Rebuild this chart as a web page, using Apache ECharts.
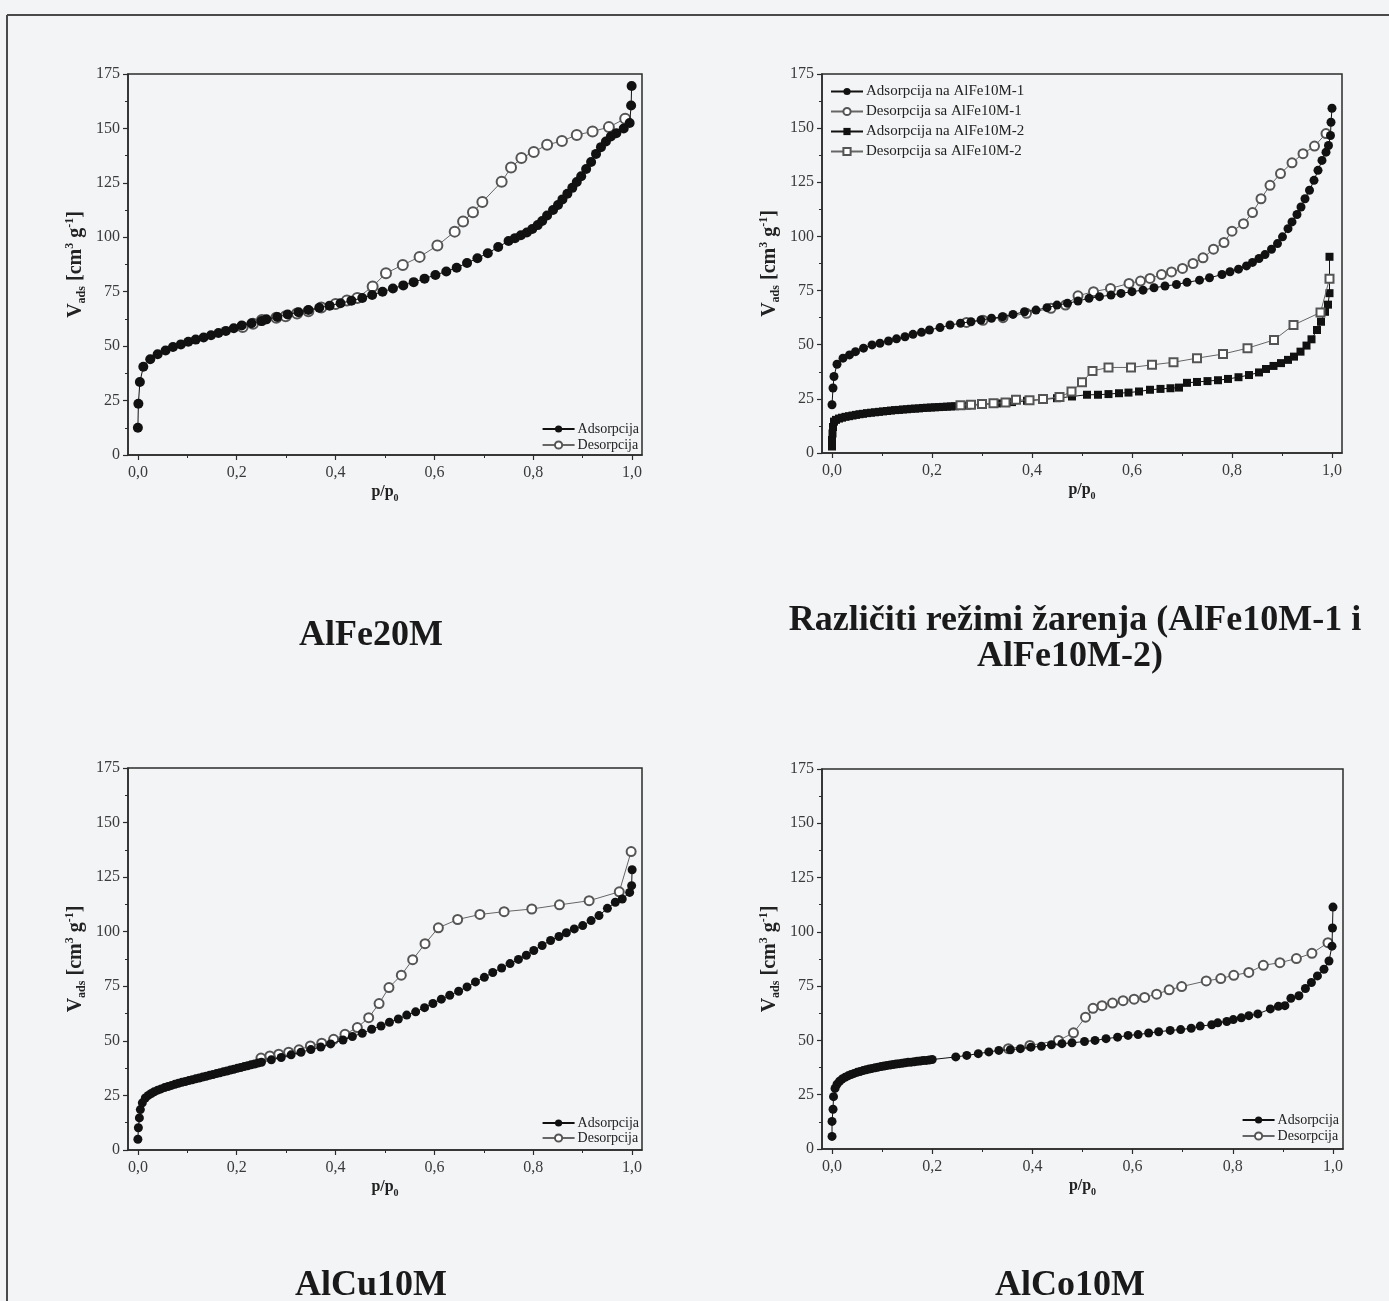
<!DOCTYPE html>
<html><head><meta charset="utf-8">
<script src="https://cdn.jsdelivr.net/npm/echarts@6/dist/echarts.min.js"></script>
<style>html,body{margin:0;padding:0;background:#f3f4f6;}#c{width:1389px;height:1301px;}</style>
</head><body><div id="c"></div>
<script>
// ---------- tick values ----------
const xMajorTicks = [0, 0.2, 0.4, 0.6, 0.8, 1.0];
const xMinorTicks = [0.1, 0.3, 0.5, 0.7, 0.9];

// ---------- captions ----------
const captions = ['AlFe20M', 'Različiti režimi žarenja (AlFe10M-1 i', 'AlFe10M-2)', 'AlCu10M', 'AlCo10M'];

// ---------- AlFe20M ----------
const alFe20Ads = [[0,12.5],[0.001,23.5],[0.004,33.5],[0.011,40.5],[0.025,44],[0.04,46.3],[0.056,48],[0.071,49.6],[0.087,50.8],[0.102,52],[0.117,53],[0.133,54],[0.148,55],[0.163,56],[0.178,57],[0.194,58.2],[0.21,59.5],[0.23,60.5],[0.25,61.5],[0.26,62.3],[0.282,63.4],[0.303,64.5],[0.325,65.6],[0.345,66.6],[0.367,67.6],[0.388,68.6],[0.41,69.7],[0.432,70.9],[0.454,72.1],[0.474,73.5],[0.495,75],[0.516,76.5],[0.537,77.9],[0.558,79.4],[0.58,81],[0.602,82.7],[0.624,84.3],[0.645,86],[0.666,88.2],[0.687,90.4],[0.708,92.7],[0.729,95.5],[0.75,98.3],[0.763,99.6],[0.775,100.9],[0.787,102.2],[0.798,103.8],[0.809,105.6],[0.818,107.5],[0.828,110],[0.84,112.5],[0.85,114.8],[0.859,117.4],[0.869,120],[0.879,122.7],[0.888,125.4],[0.897,128],[0.907,131.4],[0.917,134.6],[0.927,138.3],[0.937,141.4],[0.947,144],[0.957,146.3],[0.968,147.8],[0.983,150],[0.995,152.5],[0.998,160.5],[0.999,169.5]];
const alFe20Des = [[0.986,154.5],[0.953,150.6],[0.92,148.6],[0.888,147],[0.858,144.2],[0.828,142.5],[0.801,139.2],[0.776,136.4],[0.755,132],[0.736,125.5],[0.697,116.2],[0.678,111.5],[0.658,107.2],[0.641,102.6],[0.606,96.2],[0.57,91],[0.536,87.3],[0.502,83.5],[0.475,77.4],[0.444,72.1],[0.423,71],[0.4,69.4],[0.371,67.8],[0.345,66],[0.322,65],[0.299,63.7],[0.28,63],[0.251,62],[0.233,60.3],[0.212,58.8]];

// ---------- AlFe10M-1 / AlFe10M-2 ----------
const alFe10m1Ads = [[0,22.3],[0.002,30],[0.004,35.3],[0.01,41],[0.022,43.8],[0.035,45.3],[0.047,46.8],[0.063,48.4],[0.08,49.9],[0.096,50.7],[0.113,51.7],[0.129,52.7],[0.146,53.7],[0.162,54.8],[0.179,55.7],[0.195,56.8],[0.216,57.9],[0.236,59.1],[0.257,59.9],[0.278,60.6],[0.298,61.4],[0.319,62.2],[0.341,62.9],[0.362,64],[0.385,65.2],[0.408,66],[0.43,67.1],[0.45,68.3],[0.471,69.1],[0.492,70.2],[0.514,71.4],[0.535,72.2],[0.558,72.9],[0.578,73.7],[0.6,74.5],[0.622,75.2],[0.644,76.3],[0.666,77.1],[0.689,77.8],[0.71,78.8],[0.735,79.8],[0.755,80.9],[0.78,82.4],[0.796,83.7],[0.813,84.9],[0.829,86.4],[0.841,88],[0.854,89.8],[0.866,91.6],[0.879,94.1],[0.891,96.7],[0.901,99.8],[0.912,103.6],[0.92,106.7],[0.93,110.1],[0.938,113.6],[0.946,117.4],[0.955,121.3],[0.964,125.9],[0.972,130.5],[0.98,135.1],[0.988,138.9],[0.993,142],[0.997,146.6],[0.998,152.7],[1.0,159.2]];
const alFe10m1Des = [[0.988,147.5],[0.965,141.7],[0.942,138.2],[0.92,134],[0.897,129],[0.876,123.6],[0.858,117.4],[0.841,111],[0.823,105.9],[0.8,102.4],[0.784,97.2],[0.763,94.1],[0.742,90.1],[0.722,87.5],[0.701,85.2],[0.679,83.6],[0.659,82.4],[0.636,80.6],[0.617,79.4],[0.594,78.3],[0.557,76],[0.523,74.5],[0.492,72.6],[0.467,68.3],[0.438,66.8],[0.389,64.5],[0.342,62.5],[0.302,61.3],[0.269,60.3]];
const alFe10m2Ads = [[0,3],[0,6],[0.001,9],[0.002,12],[0.004,14.5],[0.008,15.3],[0.014,15.9],[0.02,16.3],[0.027,16.7],[0.034,17],[0.041,17.3],[0.048,17.6],[0.055,17.9],[0.062,18.1],[0.07,18.4],[0.078,18.6],[0.086,18.8],[0.094,19],[0.102,19.2],[0.11,19.4],[0.118,19.6],[0.126,19.8],[0.134,19.9],[0.142,20.1],[0.15,20.2],[0.158,20.4],[0.166,20.5],[0.174,20.6],[0.182,20.8],[0.19,20.9],[0.198,21],[0.206,21.1],[0.214,21.2],[0.222,21.3],[0.23,21.4],[0.238,21.5],[0.246,21.6],[0.27,21.9],[0.3,22.4],[0.33,22.9],[0.36,23.5],[0.39,24.1],[0.42,24.7],[0.45,25.3],[0.48,26.1],[0.51,26.9],[0.532,26.9],[0.553,27.2],[0.574,27.6],[0.593,27.9],[0.614,28.4],[0.636,29.2],[0.657,29.6],[0.677,29.9],[0.694,30.2],[0.71,32.4],[0.73,32.8],[0.751,33.2],[0.772,33.6],[0.792,34.2],[0.813,35],[0.834,36],[0.854,37.2],[0.868,38.8],[0.883,40.2],[0.898,41.5],[0.912,43],[0.924,44.5],[0.937,46.8],[0.949,49.6],[0.959,52.5],[0.97,56.8],[0.978,60.6],[0.986,65.2],[0.992,68.5],[0.995,73.8],[0.995,90.6]];
const alFe10m2Des = [[0.995,80.5],[0.977,64.9],[0.923,59.1],[0.884,52.2],[0.831,48.4],[0.782,45.7],[0.73,43.8],[0.683,41.9],[0.64,40.7],[0.598,39.5],[0.553,39.5],[0.521,37.9],[0.5,32.7],[0.479,28.4],[0.455,25.8],[0.422,24.9],[0.395,24.3],[0.368,24.6],[0.347,23.3],[0.323,23],[0.3,22.6],[0.278,22.3],[0.257,22.1]];

// ---------- AlCu10M ----------
const alCu10Ads = [[0,4.9],[0.001,10.2],[0.003,14.7],[0.005,18.5],[0.009,21.6],[0.015,23.8],[0.021,25],[0.027,25.9],[0.033,26.7],[0.04,27.4],[0.047,28],[0.054,28.6],[0.061,29.1],[0.068,29.6],[0.075,30.1],[0.082,30.6],[0.089,31],[0.096,31.4],[0.103,31.8],[0.11,32.2],[0.117,32.6],[0.124,33],[0.131,33.4],[0.138,33.8],[0.145,34.2],[0.152,34.6],[0.159,35],[0.166,35.4],[0.173,35.8],[0.18,36.2],[0.187,36.6],[0.194,37],[0.201,37.4],[0.208,37.8],[0.215,38.2],[0.222,38.6],[0.229,39],[0.236,39.4],[0.243,39.8],[0.25,40.2],[0.27,41.3],[0.29,42.4],[0.31,43.6],[0.33,44.8],[0.35,46],[0.37,47.2],[0.39,48.6],[0.415,50.4],[0.434,52],[0.454,53.5],[0.473,55.3],[0.492,56.8],[0.509,58.5],[0.527,60],[0.544,61.8],[0.562,63.3],[0.58,65.2],[0.597,67.1],[0.614,69.1],[0.631,70.9],[0.649,72.7],[0.666,74.7],[0.683,77],[0.701,79.1],[0.718,81.3],[0.736,83.4],[0.753,85.4],[0.77,87.3],[0.786,89.2],[0.801,91.4],[0.818,93.7],[0.835,96],[0.852,97.8],[0.867,99.5],[0.883,101.3],[0.9,102.8],[0.917,105.1],[0.933,107.4],[0.95,110.7],[0.966,113.5],[0.98,115],[0.995,118],[0.999,121.1],[1.0,128.4]];
const alCu10Des = [[0.998,136.7],[0.974,118.3],[0.913,114.2],[0.853,112.3],[0.797,110.4],[0.741,109.2],[0.692,107.9],[0.647,105.6],[0.608,101.8],[0.581,94.5],[0.556,87.2],[0.533,80.1],[0.508,74.4],[0.488,67.1],[0.467,60.6],[0.444,56.1],[0.419,53],[0.396,50.7],[0.372,48.9],[0.349,47.7],[0.326,45.9],[0.305,44.8],[0.285,43.9],[0.267,43.1],[0.249,42.1]];

// ---------- AlCo10M ----------
const alCo10Ads = [[0,5.8],[0,12.7],[0.002,18.3],[0.003,24.1],[0.006,27.9],[0.01,29.8],[0.015,31.2],[0.02,32.2],[0.026,33],[0.032,33.7],[0.038,34.3],[0.044,34.8],[0.05,35.3],[0.056,35.7],[0.062,36.1],[0.068,36.5],[0.074,36.8],[0.08,37.1],[0.086,37.4],[0.092,37.7],[0.098,38],[0.104,38.2],[0.11,38.5],[0.116,38.7],[0.122,38.9],[0.128,39.1],[0.134,39.3],[0.14,39.5],[0.146,39.7],[0.152,39.9],[0.158,40],[0.164,40.2],[0.17,40.4],[0.176,40.5],[0.182,40.7],[0.188,40.8],[0.194,41],[0.2,41.2],[0.247,42.4],[0.269,43.1],[0.292,43.9],[0.313,44.7],[0.333,45.4],[0.356,45.7],[0.376,46.2],[0.397,46.9],[0.418,47.3],[0.438,48],[0.459,48.5],[0.479,48.9],[0.504,49.5],[0.525,50],[0.547,50.8],[0.57,51.5],[0.591,52.3],[0.611,52.7],[0.632,53.4],[0.652,54],[0.675,54.6],[0.696,55],[0.717,55.6],[0.735,56.6],[0.758,57.2],[0.77,58.1],[0.788,58.7],[0.801,59.6],[0.817,60.4],[0.832,61.4],[0.85,62.2],[0.875,64.5],[0.891,65.7],[0.904,66],[0.916,69.4],[0.932,70.6],[0.945,73.9],[0.957,76.7],[0.969,79.7],[0.982,82.8],[0.992,86.6],[0.998,93.4],[0.999,101.8],[1.0,111.4]];
const alCo10Des = [[0.99,95],[0.958,90.1],[0.927,87.7],[0.894,85.8],[0.861,84.6],[0.832,81.3],[0.802,80],[0.776,78.5],[0.747,77.4],[0.698,74.8],[0.673,73.3],[0.648,71.3],[0.624,69.8],[0.603,69],[0.581,68.3],[0.56,67.2],[0.539,66],[0.521,64.8],[0.506,60.7],[0.482,53.5],[0.452,50],[0.395,47.7],[0.352,46.2]];

// ---------- build ----------
const SERIF = "'Liberation Serif','Times New Roman',serif";
const INK = '#2b2b2b';
const grids = [
  {left:128, top:74, width:514, height:381},
  {left:822, top:74, width:520, height:379},
  {left:128, top:768, width:514, height:382},
  {left:822, top:769, width:521, height:380}
];
const fmtX = v => v.toFixed(1).replace('.', ',');
const xAxes = [], yAxes = [];
grids.forEach((g, i) => {
  xAxes.push({
    gridIndex:i, type:'value', min:-0.02, max:1.02,
    axisLine:{show:true, onZero:false, lineStyle:{color:INK, width:1.5}},
    axisTick:{show:true, inside:false, length:5, customValues:xMajorTicks, lineStyle:{color:INK, width:1.2}},
    axisLabel:{customValues:xMajorTicks, formatter:fmtX, color:'#3a3a3a', fontFamily:SERIF, fontSize:16, margin:10},
    splitLine:{show:false},
    name:'{v|p/p}{s|0}', nameLocation:'middle', nameGap:27,
    nameTextStyle:{rich:{
      v:{fontFamily:SERIF, fontSize:16, fontWeight:'bold', color:'#222', lineHeight:18, verticalAlign:'bottom'},
      s:{fontFamily:SERIF, fontSize:10, fontWeight:'bold', color:'#222', lineHeight:18, verticalAlign:'bottom', padding:[0,0,-3,0]}
    }}
  });
  xAxes.push({
    gridIndex:i, type:'value', min:-0.02, max:1.02, position:'bottom',
    axisLine:{show:false},
    axisTick:{show:true, inside:false, length:3, customValues:xMinorTicks, lineStyle:{color:INK, width:1}},
    axisLabel:{show:false}, splitLine:{show:false}
  });
  yAxes.push({
    gridIndex:i, type:'value', min:0, max:175, interval:25,
    axisLine:{show:true, onZero:false, lineStyle:{color:INK, width:1.5}},
    axisTick:{show:true, inside:false, length:5, lineStyle:{color:INK, width:1.2}},
    minorTick:{show:true, splitNumber:2, length:3, lineStyle:{color:INK, width:1}},
    axisLabel:{color:'#3a3a3a', fontFamily:SERIF, fontSize:16, margin:8},
    splitLine:{show:false},
    name:'{v|V}{s|ads}{v| [cm}{p|3}{v| g}{p|-1}{v|]}', nameLocation:'middle', nameRotate:90, nameGap:40,
    nameTextStyle:{rich:{
      v:{fontFamily:SERIF, fontSize:20, fontWeight:'bold', color:'#222', lineHeight:24, verticalAlign:'middle'},
      s:{fontFamily:SERIF, fontSize:12, fontWeight:'bold', color:'#222', lineHeight:24, verticalAlign:'bottom'},
      p:{fontFamily:SERIF, fontSize:12, fontWeight:'bold', color:'#222', lineHeight:24, verticalAlign:'top'}
    }}
  });
});

function mk(name, data, gi, kind, size) {
  const filled = kind === 'circle' || kind === 'rect';
  return {
    type:'line', name, data, xAxisIndex:gi*2, yAxisIndex:gi,
    symbol:kind, symbolSize:size, showSymbol:true,
    lineStyle:{color: filled ? '#111' : '#666', width:1},
    itemStyle:{color: filled ? '#111' : '#555', borderWidth: filled ? 0 : 1.3},
    emphasis:{disabled:true}, animation:false, z: filled ? 3 : 2
  };
}
const series = [
  mk('Desorpcija', alFe20Des, 0, 'emptyCircle', 10),
  mk('Adsorpcija', alFe20Ads, 0, 'circle', 10),
  mk('Desorpcija sa AlFe10M-1', alFe10m1Des, 1, 'emptyCircle', 9),
  mk('Adsorpcija na AlFe10M-1', alFe10m1Ads, 1, 'circle', 9),
  mk('Adsorpcija na AlFe10M-2', alFe10m2Ads, 1, 'rect', 8),
  mk('Desorpcija sa AlFe10M-2', alFe10m2Des, 1, 'emptyRect', 8),
  mk('Desorpcija', alCu10Des, 2, 'emptyCircle', 9),
  mk('Adsorpcija', alCu10Ads, 2, 'circle', 9),
  mk('Desorpcija', alCo10Des, 3, 'emptyCircle', 9),
  mk('Adsorpcija', alCo10Ads, 3, 'circle', 9)
];
series[5].z = 4;

function leg(names, pos, gap, fs) {
  return Object.assign({orient:'vertical', align:'left', data:names, selectedMode:false,
    itemWidth:32, itemHeight:9, itemGap:gap, padding:0,
    textStyle:{fontFamily:SERIF, fontSize:fs, color:'#222', padding:[0,0,0,-2]}}, pos);
}
const legends = [
  leg(['Adsorpcija','Desorpcija'], {right:750, top:422}, 2, 14),
  leg(['Adsorpcija na AlFe10M-1','Desorpcija sa AlFe10M-1','Adsorpcija na AlFe10M-2','Desorpcija sa AlFe10M-2'], {left:830, top:84}, 5, 15),
  leg(['Adsorpcija','Desorpcija'], {right:750, top:1116}, 1, 14),
  leg(['Adsorpcija','Desorpcija'], {right:50, top:1113}, 2, 14)
];

const capStyle = (x, y, t) => ({type:'text', x, y, style:{text:t, fontFamily:SERIF, fontSize:36, fontWeight:'bold', fill:'#1a1a1a', align:'center', verticalAlign:'middle'}, z:10});
const graphic = [
  {type:'line', shape:{x1:7, y1:15, x2:1389, y2:15}, style:{stroke:'#4a4a4a', lineWidth:2}, z:1},
  {type:'line', shape:{x1:7, y1:15, x2:7, y2:1301}, style:{stroke:'#4a4a4a', lineWidth:2}, z:1},
  capStyle(371, 636, captions[0]),
  capStyle(1075, 621, captions[1]),
  capStyle(1070, 657, captions[2]),
  capStyle(371, 1286, captions[3]),
  capStyle(1070, 1286, captions[4])
];

const chart = echarts.init(document.getElementById('c'), null, {renderer:'canvas'});
chart.setOption({
  backgroundColor:'#f3f4f6', animation:false,
  grid: grids.map(g => Object.assign({show:true, borderColor:INK, borderWidth:1.5, backgroundColor:'transparent'}, g)),
  xAxis:xAxes, yAxis:yAxes, series, legend:legends, graphic
});
</script></body></html>
